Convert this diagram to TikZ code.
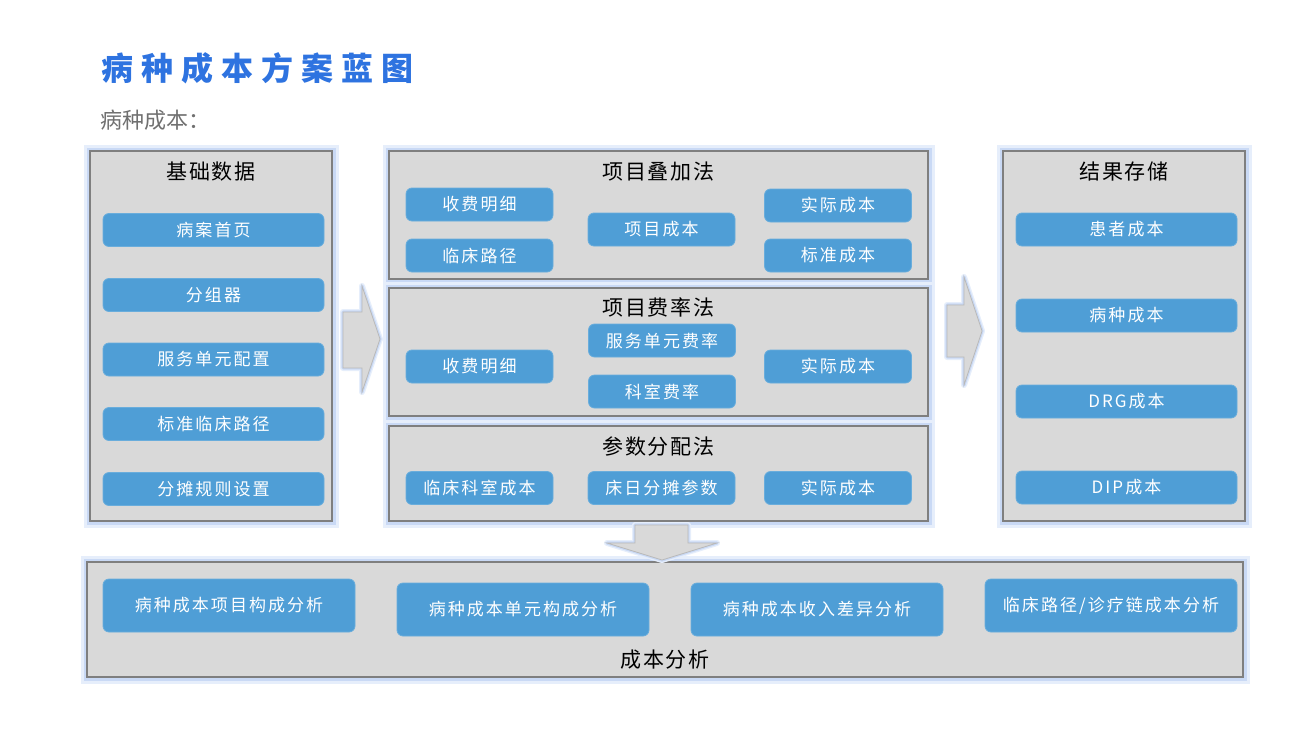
\documentclass[tikz,border=0pt]{standalone}
\usepackage{fontspec}
\setmainfont{Noto Sans CJK SC}
\newfontfamily\btnfont[LetterSpace=12]{Noto Sans CJK SC}
\newfontfamily\headfont[LetterSpace=8]{Noto Sans CJK SC}
\newfontfamily\titlefont[LetterSpace=25]{Noto Sans CJK SC}
\usetikzlibrary{calc}

\definecolor{panelgray}{HTML}{D9D9D9}
\definecolor{paneledge}{HTML}{7F7F7F}
\definecolor{btnblue}{HTML}{4F9ED6}
\definecolor{glowblue}{HTML}{C9D9F5}
\definecolor{glowlight}{HTML}{E6EEFB}
\definecolor{titleblue}{HTML}{2E73E0}
\definecolor{subgray}{HTML}{707070}

\tikzset{
  panel/.style={draw=paneledge, fill=panelgray, line width=0.6pt, inner sep=0pt,
    preaction={draw=glowlight, line width=6.5pt, rounded corners=5pt},
    preaction={draw=glowblue, line width=3.5pt, rounded corners=3pt}},
  btn/.style={fill=btnblue, draw=btnblue!85!white, rounded corners=3pt, inner sep=0pt,
    minimum height=16.5pt, text=white, font=\btnfont\fontsize{8.5}{8.5}\selectfont},
  ptitle/.style={font=\headfont\fontsize{10.5}{10.5}\selectfont, inner sep=0pt},
  blockarrow/.style={fill=panelgray, draw=gray!55, line width=0.4pt,
    preaction={draw=glowlight, line width=3pt, line join=round},
    preaction={draw=glowblue, line width=1.6pt, line join=round}}
}

\begin{document}
\begin{tikzpicture}[x=0.5pt, y=-0.5pt]
\useasboundingbox (0,0) rectangle (1304,733);

% heading
\node[anchor=west, inner sep=0pt, text=titleblue, font=\titlefont\fontsize{16}{16}\selectfont\bfseries] (title) at (101,68) {病种成本方案蓝图};
\node[anchor=west, inner sep=0pt, text=subgray, font=\fontsize{11}{11}\selectfont] (subtitle) at (100,120) {病种成本：};

% panels
\node[panel, minimum width=121pt, minimum height=185pt] (basic) at (211,336) {};
\node[panel, minimum width=269.5pt, minimum height=64pt] (stack) at (658.5,215) {};
\node[panel, minimum width=269.5pt, minimum height=64pt] (rate) at (658.5,352) {};
\node[panel, minimum width=269.5pt, minimum height=47.5pt] (param) at (658.5,473.5) {};
\node[panel, minimum width=121pt, minimum height=185pt] (store) at (1124,336) {};
\node[panel, minimum width=578pt, minimum height=57.5pt] (analysis) at (665,619.5) {};

% panel titles
\node[ptitle] (basict) at ($(basic.north)+(0,21)$) {基础数据};
\node[ptitle] (stackt) at ($(stack.north)+(0,21)$) {项目叠加法};
\node[ptitle] (ratet) at ($(rate.north)+(0,20)$) {项目费率法};
\node[ptitle] (paramt) at ($(param.north)+(0,21)$) {参数分配法};
\node[ptitle] (storet) at ($(store.north)+(0,21)$) {结果存储};
\node[ptitle] (analysist) at ($(analysis.south)+(0,-18)$) {成本分析};

% basic data
\node[btn, minimum width=110.5pt] (b1) at (213.5,230) {病案首页};
\node[btn, minimum width=110.5pt] (b2) at (213.5,295) {分组器};
\node[btn, minimum width=110.5pt] (b3) at (213.5,359.5) {服务单元配置};
\node[btn, minimum width=110.5pt] (b4) at (213.5,424) {标准临床路径};
\node[btn, minimum width=110.5pt] (b5) at (213.5,489) {分摊规则设置};

% item stacking
\node[btn, minimum width=73.5pt] (s1) at (479.5,204.5) {收费明细};
\node[btn, minimum width=73.5pt] (s2) at (479.5,255.5) {临床路径};
\node[btn, minimum width=73.5pt] (s3) at (661.5,229.5) {项目成本};
\node[btn, minimum width=73.5pt] (s4) at (838,205.5) {实际成本};
\node[btn, minimum width=73.5pt] (s5) at (838,255.5) {标准成本};

% item rate
\node[btn, minimum width=73.5pt] (r1) at (479.5,366.5) {收费明细};
\node[btn, minimum width=73.5pt] (r2) at (662,340.5) {服务单元费率};
\node[btn, minimum width=73.5pt] (r3) at (662,391.5) {科室费率};
\node[btn, minimum width=73.5pt] (r4) at (838,366.5) {实际成本};

% parameter allocation
\node[btn, minimum width=73.5pt] (p1) at (479.5,488) {临床科室成本};
\node[btn, minimum width=73.5pt] (p2) at (661.5,488) {床日分摊参数};
\node[btn, minimum width=73.5pt] (p3) at (838,488) {实际成本};

% result storage
\node[btn, minimum width=110.5pt] (e1) at (1126.5,229.5) {患者成本};
\node[btn, minimum width=110.5pt] (e2) at (1126.5,315.5) {病种成本};
\node[btn, minimum width=110.5pt] (e3) at (1126.5,401.5) {DRG成本};
\node[btn, minimum width=110.5pt] (e4) at (1126.5,487.5) {DIP成本};

% cost analysis
\node[btn, minimum width=126pt, minimum height=26.5pt] (a1) at (229,605.5) {病种成本项目构成分析};
\node[btn, minimum width=126pt, minimum height=26.5pt] (a2) at (523,609.5) {病种成本单元构成分析};
\node[btn, minimum width=126pt, minimum height=26.5pt] (a3) at (817,609.5) {病种成本收入差异分析};
\node[btn, minimum width=126pt, minimum height=26.5pt] (a4) at (1111,605.5) {临床路径/诊疗链成本分析};

% block arrows
\draw[blockarrow] (343,312) -- (362,312) -- (362,286) -- (380,339) -- (362,392) -- (362,368) -- (343,368) -- cycle;
\draw[blockarrow] (947,305) -- (964,305) -- (964,277) -- (982,331) -- (964,385) -- (964,357) -- (947,357) -- cycle;
\draw[blockarrow] (635,525) -- (688,525) -- (688,543) -- (717,543) -- (662,560) -- (607,543) -- (635,543) -- cycle;
\end{tikzpicture}
\end{document}
